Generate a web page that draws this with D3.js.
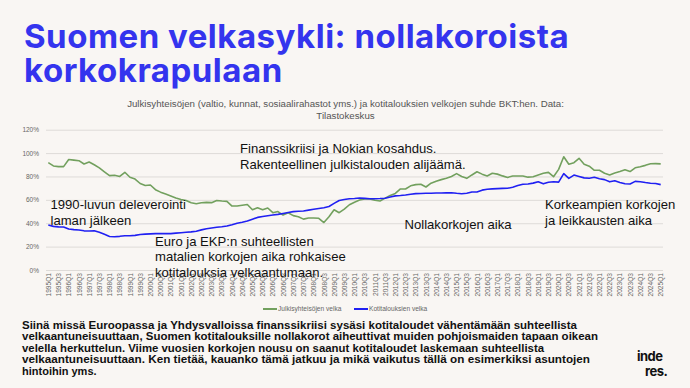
<!DOCTYPE html>
<html>
<head>
<meta charset="utf-8">
<script src="https://cdn.jsdelivr.net/npm/d3@7"></script>
<style>
  html, body { margin: 0; padding: 0; background: #f9f6f3; }
  svg { display: block; }
</style>
</head>
<body>
<div id="chart"></div>
<script>
// Quarters 1995Q1 .. 2025Q1
const years = d3.range(1995, 2026);
const quarters = years.flatMap(y => [1, 2, 3, 4].map(q => `${y}Q${q}`)).slice(0, 121);

// Julkisyhteisöjen velka, % of GDP
const publicDebt = [
  91.8, 89, 88.4, 88.4, 94.5, 94, 93.5, 90.7, 92.4, 90, 87.3, 84, 80.7, 81, 80, 83.6,
  79.3, 77.8, 74, 72.3, 72.7, 68.7, 66.6, 65, 63.3, 61.6, 60.3, 59.5, 57.5, 56.7, 57.5, 57.8,
  57.6, 59.5, 59, 58.7, 54.7, 54.7, 55.4, 56, 51.5, 53.3, 51.5, 53, 49, 50, 47, 49,
  46.5, 45.6, 43.5, 44.5, 44.5, 44.2, 40.6, 45.5, 51.5, 49, 52, 55.8, 58, 59.8, 60.8, 60.8,
  59.6, 59, 61.5, 63.8, 65.5, 69.3, 69.3, 72, 73, 73.3, 71, 74.3, 76, 77.3, 78.5, 80,
  82.4, 80, 78.4, 81.3, 84, 82, 80.4, 82.7, 82, 80.5, 79.2, 80.4, 80.4, 80.4, 79.4, 79.8,
  81.2, 82.7, 83.5, 79.8, 86.1, 96.9, 90.4, 91.8, 95.5, 90.4, 88.8, 85.3, 85.3, 82.8, 81.3, 83,
  84.3, 85.8, 84.2, 87.4, 88.3, 89.5, 90.9, 91, 90.8
];

// Kotitalouksien velka, % of GDP
const householdDebt = [
  38.5, 37.3, 36.9, 36.8, 35, 34.5, 34.2, 33.5, 33.4, 33.6, 32.2, 30.5, 28.7, 28.5, 28.8, 29.3,
  29.3, 29.6, 30.4, 30.7, 30.9, 31.1, 31.1, 31.1, 31.1, 31.5, 31.9, 32.3, 32.6, 33.2, 34.3, 35.3,
  35.9, 36.5, 37, 37.6, 38.7, 40, 40.8, 41.9, 43.5, 45, 45.8, 46.4, 47, 47.6, 48.4, 49.2,
  49.9, 50.2, 50.5, 51.2, 51.9, 52.6, 53.3, 54.3, 57, 59.5, 60.3, 61, 61.2, 61.6, 61.3, 61,
  61, 61.1, 61.4, 62.5, 63.4, 63.7, 64.1, 64.8, 65.3, 65.4, 65.6, 65.7, 65.8, 65.9, 66, 66.1,
  65.6, 65.2, 65.6, 66.7, 66.7, 68.3, 69, 69.4, 69.6, 69.8, 69.9, 70.8, 72.2, 73.3, 73.5, 74.3,
  75.5, 73.7, 75, 75.5, 75.2, 82.4, 78.4, 81.2, 80, 78.8, 78.5, 79.3, 78, 77.3, 75.4, 76.4,
  74.8, 73.8, 73.6, 75.8, 75.5, 74.8, 74.2, 74, 73
];

const yTicks = [0, 20, 40, 60, 80, 100, 120];
const xTickLabels = quarters.filter((d, i) => i % 2 === 0);

const seriesNames = ['Julkisyhteisöjen velka', 'Kotitalouksien velka'];
const seriesColors = ['#72a05e', '#2020f2'];

const titleLines = ['Suomen velkasykli: nollakoroista', 'korkokrapulaan'];
const subtitleLines = [
  'Julkisyhteisöjen (valtio, kunnat, sosiaalirahastot yms.) ja kotitalouksien velkojen suhde BKT:hen. Data:',
  'Tilastokeskus'
];

const annotations = [
  { lines: ['Finanssikriisi ja Nokian kosahdus.', 'Rakenteellinen julkistalouden alijäämä.'], x: 240, y: 152.5, lh: 16 },
  { lines: ['1990-luvun deleverointi', 'laman jälkeen'], x: 50.5, y: 209, lh: 15.5 },
  { lines: ['Euro ja EKP:n suhteellisten', 'matalien korkojen aika rohkaisee', 'kotitalouksia velkaantumaan.'], x: 155, y: 245.5, lh: 15.5 },
  { lines: ['Nollakorkojen aika'], x: 404.5, y: 228.5, lh: 15.5 },
  { lines: ['Korkeampien korkojen', 'ja leikkausten aika'], x: 545, y: 208.5, lh: 16 }
];

const bodyLines = [
  'Siinä missä Euroopassa ja Yhdysvalloissa finanssikriisi sysäsi kotitaloudet vähentämään suhteellista',
  'velkaantuneisuuttaan, Suomen kotitalouksille nollakorot aiheuttivat muiden pohjoismaiden tapaan oikean',
  'velella herkuttelun. Viime vuosien korkojen nousu on saanut kotitaloudet laskemaan suhteellista',
  'velkaantuneisuuttaan. Ken tietää, kauanko tämä jatkuu ja mikä vaikutus tällä on esimerkiksi asuntojen',
  'hintoihin yms.'
];
const bodyWidths = [555, 576, 522, 568, 0];

const W = 690, H = 388;
const plot = { left: 46, right: 663, top: 129.7, bottom: 270, x0: 48.3, x1: 660.7 };

const svg = d3.select('#chart').append('svg')
  .attr('width', W)
  .attr('height', H)
  .style('background', '#f9f6f3');

// Title
svg.append('g').selectAll('text')
  .data(titleLines)
  .enter().append('text')
    .attr('x', 24)
    .attr('y', (d, i) => 47.5 + i * 34.5)
    .attr('fill', '#3434ee')
    .style('font-family', 'Inter, "Liberation Sans", sans-serif')
    .style('font-weight', 700)
    .style('font-size', '33px')
    .style('letter-spacing', '0.5px')
    .text(d => d);

// Subtitle
svg.append('g').selectAll('text')
  .data(subtitleLines)
  .enter().append('text')
    .attr('x', 345.5)
    .attr('y', (d, i) => 106.5 + i * 12)
    .attr('text-anchor', 'middle')
    .attr('fill', '#555')
    .style('font-family', '"Liberation Sans", Arial, sans-serif')
    .style('font-size', '9.7px')
    .text(d => d);

const x = d3.scalePoint()
  .domain(quarters)
  .range([plot.x0, plot.x1]);

const y = d3.scaleLinear()
  .domain([0, 120])
  .range([plot.bottom, plot.top]);

// Y axis + gridlines
const yAxis = svg.append('g')
  .attr('transform', `translate(${plot.left},0)`)
  .call(d3.axisLeft(y)
    .tickValues(yTicks)
    .tickSize(-(plot.right - plot.left))
    .tickPadding(7)
    .tickFormat(d => `${d}%`));
yAxis.select('.domain').remove();
yAxis.selectAll('line').attr('stroke', '#dedbd8').attr('stroke-width', 1);
yAxis.selectAll('text')
  .attr('fill', '#666')
  .style('font-family', '"Liberation Sans", Arial, sans-serif')
  .style('font-size', '6.5px');

// X axis labels
const xAxis = svg.append('g')
  .attr('transform', `translate(0,${plot.bottom})`)
  .call(d3.axisBottom(x).tickValues(xTickLabels).tickSize(0).tickPadding(0));
xAxis.select('.domain').remove();
xAxis.selectAll('text')
  .attr('fill', '#666')
  .style('font-family', '"Liberation Sans", Arial, sans-serif')
  .style('font-size', '6.6px')
  .attr('transform', 'rotate(-90)')
  .attr('text-anchor', 'end')
  .attr('x', -3)
  .attr('y', 0)
  .attr('dy', '0.32em');

// Lines
const line = d3.line()
  .x((d, i) => x(quarters[i]))
  .y(d => y(d));

[publicDebt, householdDebt].forEach((series, k) => {
  svg.append('path')
    .datum(series)
    .attr('fill', 'none')
    .attr('stroke', seriesColors[k])
    .attr('stroke-width', 1.6)
    .attr('stroke-linejoin', 'round')
    .attr('d', line);
});

// Legend
const legend = svg.append('g').attr('transform', 'translate(263,309)');
const legendX = [0, 91];
seriesNames.forEach((name, k) => {
  const g = legend.append('g').attr('transform', `translate(${legendX[k]},0)`);
  g.append('line')
    .attr('x1', 0).attr('x2', 14)
    .attr('stroke', seriesColors[k])
    .attr('stroke-width', 2);
  g.append('text')
    .attr('x', 15)
    .attr('dy', '0.35em')
    .attr('fill', '#666')
    .style('font-family', '"Liberation Sans", Arial, sans-serif')
    .style('font-size', '6.6px')
    .text(name);
});

// Annotations
annotations.forEach(a => {
  svg.append('g').selectAll('text')
    .data(a.lines)
    .enter().append('text')
      .attr('x', a.x)
      .attr('y', (d, i) => a.y + i * a.lh)
      .attr('fill', '#111')
      .style('font-family', '"Liberation Sans", Arial, sans-serif')
      .style('font-size', '13.1px')
      .text(d => d);
});

// Body text
svg.append('g').selectAll('text')
  .data(bodyLines)
  .enter().append('text')
    .attr('x', 22)
    .attr('y', (d, i) => 329 + i * 11.4)
    .attr('fill', '#111')
    .style('font-family', '"Liberation Sans Narrow", "Liberation Sans", Arial, sans-serif')
    .style('font-weight', 700)
    .style('font-size', '11px')
    .each(function(d, i) {
      if (bodyWidths[i]) {
        d3.select(this)
          .attr('textLength', bodyWidths[i])
          .attr('lengthAdjust', 'spacingAndGlyphs');
      }
    })
    .text(d => d);

// Logo
const logo = svg.append('g')
  .attr('fill', '#111')
  .style('font-family', 'Inter, "Liberation Sans", sans-serif')
  .style('font-weight', 700)
  .style('font-size', '13px');
logo.append('text').attr('x', 637).attr('y', 361).style('letter-spacing', '-0.5px').text('inde');
logo.append('text').attr('x', 645).attr('y', 376).style('letter-spacing', '-0.5px').text('res.');
</script>
</body>
</html>
